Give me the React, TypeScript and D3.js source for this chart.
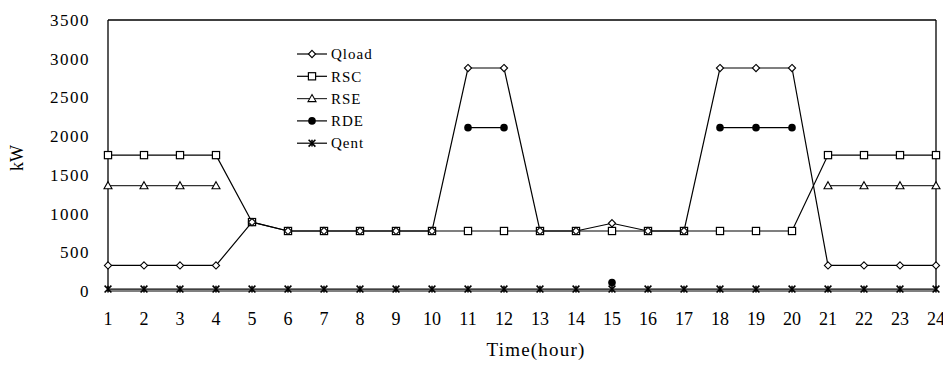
import * as d3 from "d3";
import React from "react";

const hours = d3.range(1, 25);
const qload = [330, 330, 330, 330, 890, 775, 775, 775, 775, 775, 2880, 2880, 775, 775, 875, 775, 775, 2880, 2880, 2880, 330, 330, 330, 330];
const rsc = [1755, 1755, 1755, 1755, 890, 775, 775, 775, 775, 775, 775, 775, 775, 775, 775, 775, 775, 775, 775, 775, 1755, 1755, 1755, 1755];
const rse: (number | null)[] = [1360, 1360, 1360, 1360, null, null, null, null, null, null, null, null, null, null, null, null, null, null, null, null, 1360, 1360, 1360, 1360];
const rde: (number | null)[] = [null, null, null, null, null, null, null, null, null, null, 2110, 2110, null, null, 110, null, null, 2110, 2110, 2110, null, null, null, null];
const qent = [25, 25, 25, 25, 25, 25, 25, 25, 25, 25, 25, 25, 25, 25, 25, 25, 25, 25, 25, 25, 25, 25, 25, 25];
const yTicks = [0, 500, 1000, 1500, 2000, 2500, 3000, 3500];
const seriesNames = ["Qload", "RSC", "RSE", "RDE", "Qent"];

const W = 943, H = 365;
const m = { left: 108, right: 7, top: 20, bottom: 74 };
const font = "Liberation Serif, Times New Roman, serif";

function Marker({ kind, x, y }: { kind: string; x: number; y: number }) {
  if (kind === "Qload") {
    const r = 3.6;
    return <path d={`M${x},${y - r}L${x + r},${y}L${x},${y + r}L${x - r},${y}Z`} fill="#fff" stroke="#000" strokeWidth={1.1} />;
  }
  if (kind === "RSC") return <rect x={x - 3.6} y={y - 3.6} width={7.2} height={7.2} fill="#fff" stroke="#000" strokeWidth={1.2} />;
  if (kind === "RSE") {
    const r = 4;
    return <path d={`M${x},${y - r}L${x + r},${y + r * 0.75}L${x - r},${y + r * 0.75}Z`} fill="#fff" stroke="#000" strokeWidth={1.1} />;
  }
  if (kind === "RDE") return <circle cx={x} cy={y} r={3.8} fill="#000" />;
  const r = 3.4;
  return (
    <g stroke="#000" strokeWidth={1.6}>
      <line x1={x - r} x2={x + r} y1={y - r} y2={y + r} />
      <line x1={x - r} x2={x + r} y1={y + r} y2={y - r} />
      <line x1={x} x2={x} y1={y - r} y2={y + r} />
    </g>
  );
}

export default function App() {
  const x = d3.scaleLinear().domain([1, 24]).range([m.left, W - m.right]);
  const y = d3.scaleLinear().domain([0, 3500]).range([H - m.bottom, m.top]);
  const data: Record<string, (number | null)[]> = { Qload: qload, RSC: rsc, RSE: rse, RDE: rde, Qent: qent };
  const line = d3.line<number | null>()
    .defined(d => d !== null)
    .x((_, i) => x(hours[i]))
    .y(d => y(d as number));
  const order = ["Qent", "RSE", "RSC", "Qload", "RDE"];

  return (
    <svg width={W} height={H} style={{ position: "absolute", left: 0, top: 0, background: "#fff", fontFamily: font }}>
      {/* plot frame */}
      <line x1={x(1)} x2={x(24)} y1={y(3500)} y2={y(3500)} stroke="#000" strokeWidth={1.3} />
      <line x1={x(24)} x2={x(24)} y1={y(3500)} y2={y(0)} stroke="#000" strokeWidth={1.3} />
      <line x1={x(1)} x2={x(1)} y1={y(3500)} y2={y(0)} stroke="#000" strokeWidth={1.3} />
      <line x1={x(1)} x2={x(24)} y1={y(0)} y2={y(0)} stroke="#000" strokeWidth={1.1} />

      {yTicks.map(t => (
        <text key={t} x={90} y={y(t)} dy="0.35em" textAnchor="end" fontSize={17} letterSpacing={1.5}>{t}</text>
      ))}
      {hours.map(h => (
        <text key={h} x={x(h)} y={325} textAnchor="middle" fontSize={18}>{h}</text>
      ))}
      <text x={536} y={356} textAnchor="middle" fontSize={19} letterSpacing={1.2}>Time(hour)</text>
      <text transform={`translate(23,158) rotate(-90)`} textAnchor="middle" fontSize={18}>kW</text>

      {order.map(k => (
        <g key={k}>
          <path d={line(data[k]) ?? undefined} fill="none" stroke={k === "RSE" ? "#333" : "#000"} strokeWidth={1.2} />
          {data[k].map((v, i) => v === null ? null : <Marker key={i} kind={k} x={x(hours[i])} y={y(v)} />)}
        </g>
      ))}

      {seriesNames.map((k, i) => {
        const ly = 54 + i * 22.3;
        return (
          <g key={k}>
            <line x1={297} x2={327} y1={ly} y2={ly} stroke={k === "RSE" ? "#333" : "#000"} strokeWidth={1.2} />
            <Marker kind={k} x={312} y={ly} />
            <text x={331} y={ly} dy="0.35em" fontSize={15} letterSpacing={1}>{k}</text>
          </g>
        );
      })}
    </svg>
  );
}
